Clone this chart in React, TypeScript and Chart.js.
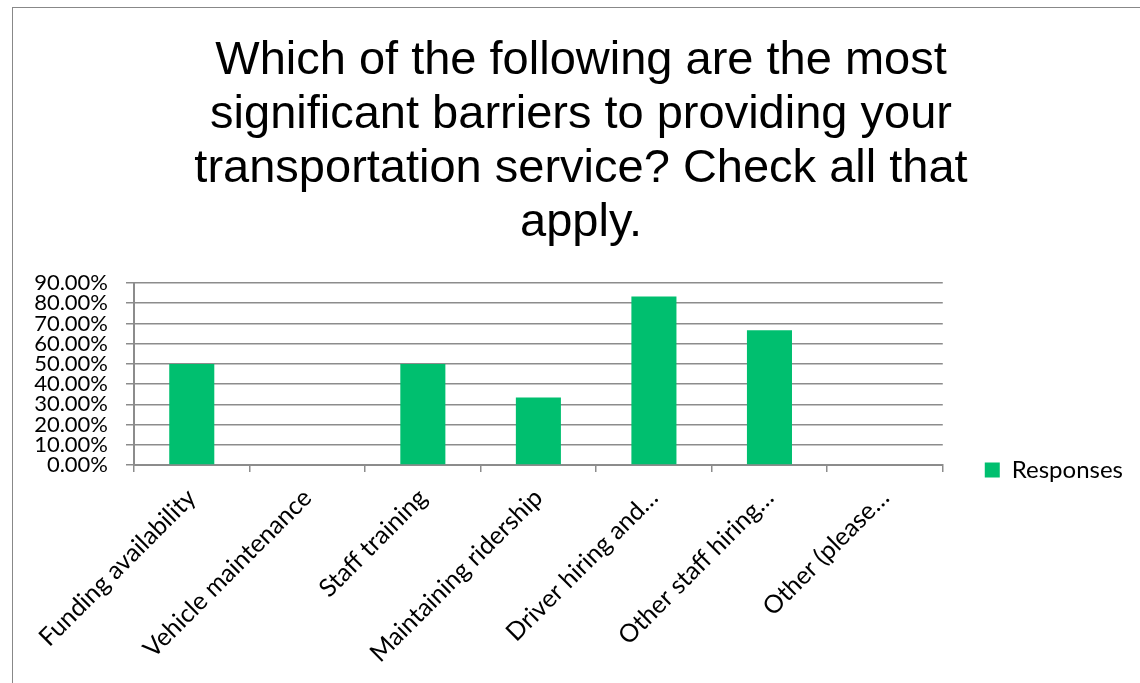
import React, { useEffect, useRef } from "react";
import { Chart, registerables } from "chart.js";

Chart.register(...registerables);

const categories = [
  "Funding availability",
  "Vehicle maintenance",
  "Staff training",
  "Maintaining ridership",
  "Driver hiring and…",
  "Other staff hiring…",
  "Other (please…",
];
const responses = [50, 0, 50, 33.33, 83.33, 66.67, 0];
const seriesName = "Responses";
const titleLines = [
  "Which of the following are the most",
  "significant barriers to providing your",
  "transportation service? Check all that",
  "apply.",
];
const yMin = 0;
const yMax = 90;
const yStep = 10;

const CANVAS_W = 1136;
const CANVAS_H = 924;
const SIDE_PAD = 16;
const Y_AXIS_W = 105;
const PLOT_BOTTOM = 457;

const GRID = "#8c8c8c";
const BAR = "#00BF6F";
const LABEL_FONT = "Lato, 'Open Sans', sans-serif";

export default function App() {
  const ref = useRef<HTMLCanvasElement | null>(null);

  useEffect(() => {
    if (!ref.current) return;
    const chart = new Chart(ref.current, {
      type: "bar",
      data: {
        labels: categories,
        datasets: [
          {
            label: seriesName,
            data: responses,
            backgroundColor: BAR,
            borderWidth: 0,
            categoryPercentage: 1,
            barPercentage: 0.39,
          },
        ],
      },
      options: {
        responsive: false,
        animation: false,
        layout: { padding: { left: SIDE_PAD, right: SIDE_PAD, top: 0, bottom: 0 } },
        plugins: {
          tooltip: { enabled: false },
          title: {
            display: true,
            text: titleLines,
            color: "#000",
            font: {
              family: "'Liberation Sans', Arial, sans-serif",
              size: 47,
              weight: "normal",
              lineHeight: 54 / 47,
            },
            padding: { top: 26, bottom: 33 },
          },
          legend: {
            position: "right",
            labels: {
              boxWidth: 15,
              boxHeight: 15,
              padding: 42,
              color: "#000",
              font: { family: LABEL_FONT, size: 24 },
            },
          },
        },
        scales: {
          x: {
            grid: {
              display: true,
              drawOnChartArea: false,
              drawTicks: true,
              tickLength: 7,
              color: GRID,
              lineWidth: 1.5,
              offset: true,
            },
            border: { display: true, color: GRID, width: 2 },
            ticks: {
              autoSkip: false,
              maxRotation: 45,
              minRotation: 45,
              padding: 11,
              color: "#000",
              font: { family: LABEL_FONT, size: 25 },
            },
            afterFit: (s: any) => {
              s.height = CANVAS_H - PLOT_BOTTOM;
            },
          },
          y: {
            min: yMin,
            max: yMax,
            grid: { color: GRID, lineWidth: 1.5, tickLength: 8 },
            border: { display: true, color: GRID, width: 2 },
            ticks: {
              stepSize: yStep,
              autoSkip: false,
              padding: 18,
              color: "#000",
              font: { family: LABEL_FONT, size: 22 },
              callback: (v: any) => Number(v).toFixed(2) + "%",
            },
            afterFit: (s: any) => {
              s.width = Y_AXIS_W;
            },
          },
        },
      },
    });
    return () => chart.destroy();
  }, []);

  return (
    <div
      style={{
        position: "fixed",
        left: 0,
        top: 0,
        width: 1140,
        height: 683,
        overflow: "hidden",
        background: "#fff",
      }}
    >
      <div
        style={{
          position: "absolute",
          left: 528,
          top: -31,
          fontFamily: "'Liberation Sans', Arial, sans-serif",
          fontSize: 30,
          lineHeight: "30px",
          color: "#222",
          whiteSpace: "nowrap",
        }}
      >
        apply.
      </div>
      <div
        style={{
          position: "absolute",
          left: 12,
          top: 7,
          width: CANVAS_W + 20,
          height: CANVAS_H + 20,
          borderLeft: "1px solid #888",
          borderTop: "1px solid #888",
          background: "#fff",
        }}
      >
        <canvas
          ref={ref}
          width={CANVAS_W}
          height={CANVAS_H}
          style={{ display: "block", width: CANVAS_W, height: CANVAS_H }}
        />
      </div>
    </div>
  );
}
